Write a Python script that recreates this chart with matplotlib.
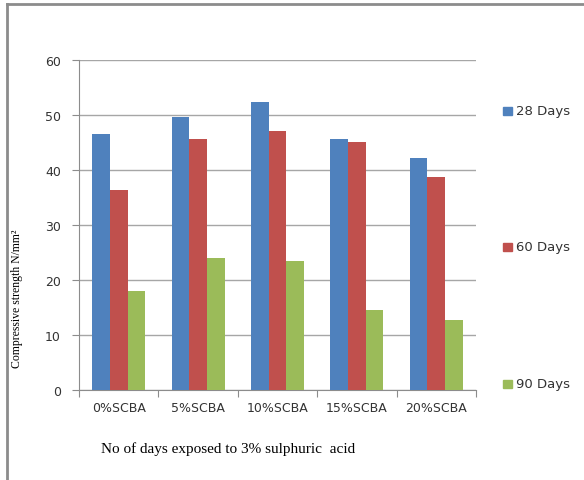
import matplotlib.pyplot as plt
import numpy as np
from matplotlib.lines import Line2D

# data
categories = ['0%SCBA', '5%SCBA', '10%SCBA', '15%SCBA', '20%SCBA']
days_28 = [46.5, 49.6, 52.4, 45.6, 42.1]
days_60 = [36.4, 45.6, 47.1, 45.0, 38.8]
days_90 = [18.0, 24.0, 23.5, 14.6, 12.7]
series_names = ['28 Days', '60 Days', '90 Days']
colors = ['#4F81BD', '#C0504D', '#9BBB59']

fig = plt.figure(figsize=(5.84, 4.81), dpi=100)
ax = fig.add_axes([0.1353, 0.1871, 0.6798, 0.6861])

x = np.arange(len(categories))
w = 0.223
for i, vals in enumerate([days_28, days_60, days_90]):
    ax.bar(x + (i - 1) * w, vals, w, color=colors[i], zorder=3,
           label=series_names[i])

ax.set_xlim(-0.5, len(categories) - 0.5)
ax.set_ylim(0, 60)
ax.set_yticks(range(0, 61, 10))
ax.yaxis.grid(True, color='#a6a6a6', linewidth=1.0, zorder=0)

for side in ['top', 'right']:
    ax.spines[side].set_visible(False)
ax.spines['left'].set_color('#8c8c8c')
ax.spines['bottom'].set_color('#8c8c8c')

# x ticks at category boundaries, labels at centres
ax.set_xticks(np.arange(len(categories) + 1) - 0.5)
ax.set_xticklabels([])
ax.set_xticks(x, minor=True)
ax.set_xticklabels(categories, minor=True)
ax.tick_params(axis='x', which='minor', length=0, pad=8)
ax.tick_params(axis='x', which='major', length=5, color='#8c8c8c', direction='out')
ax.tick_params(axis='y', length=5, color='#8c8c8c', pad=8)
for lab in ax.get_xticklabels(minor=True) + ax.get_yticklabels():
    lab.set_fontsize(9)
    lab.set_color('#333333')

# legend entries stacked far apart on the right
leg_y = [112, 248, 385]
for name, c, py in zip(series_names, colors, leg_y):
    fy = 1 - py / 481
    fig.patches.append(plt.Rectangle((503 / 584, fy - 0.008), 9 / 584, 0.016,
                                     color=c, transform=fig.transFigure))
    fig.text(516 / 584, fy, name, fontsize=9.5, color='#333333', va='center')

fig.text(228 / 584, 1 - 449 / 481, 'No of days exposed to 3% sulphuric  acid',
         family='Liberation Serif', fontsize=11, ha='center', va='center')
fig.text(17 / 584, 1 - 299 / 481, 'Compressive strength N/mm²',
         family='Liberation Serif', fontsize=8.5, rotation=90, ha='center',
         va='center')

# frame lines at left and top
fig.lines.append(Line2D([6.5 / 584, 6.5 / 584], [0, 1 - 4.5 / 481],
                        color='#8c8c8c', linewidth=2, transform=fig.transFigure))
fig.lines.append(Line2D([6.5 / 584, 1], [1 - 4.5 / 481, 1 - 4.5 / 481],
                        color='#8c8c8c', linewidth=2, transform=fig.transFigure))

fig.savefig('out.png', dpi=100)
